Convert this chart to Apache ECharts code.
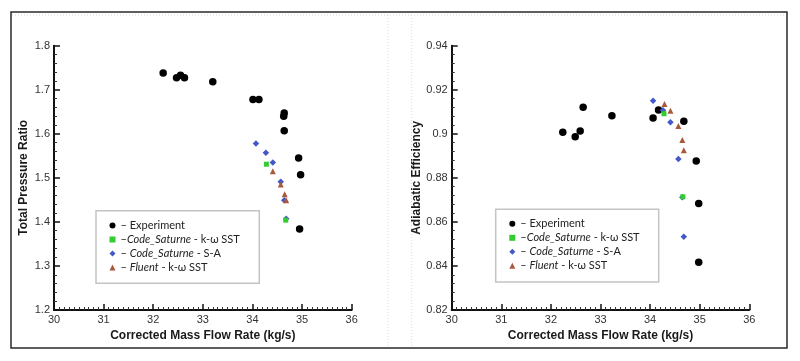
<!DOCTYPE html>
<html><head><meta charset="utf-8">
<script src="https://cdn.jsdelivr.net/npm/echarts@6/dist/echarts.min.js"></script>
<style>html,body{margin:0;padding:0;background:#fff}#c{width:800px;height:361px}</style>
</head><body><div id="c"></div>
<script>
// ---- Data: Total Pressure Ratio panel ----
const prExpX = [32.20, 32.47, 32.55, 32.63, 33.20, 34.01, 34.13, 34.64, 34.63, 34.64, 34.93, 34.97, 34.95];
const prExpY = [1.738, 1.727, 1.733, 1.727, 1.718, 1.678, 1.678, 1.647, 1.640, 1.607, 1.545, 1.507, 1.384];
const prSstX = [34.28, 34.67];
const prSstY = [1.531, 1.404];
const prSaX = [34.07, 34.27, 34.41, 34.57, 34.64, 34.68];
const prSaY = [1.578, 1.557, 1.535, 1.491, 1.449, 1.407];
const prFlX = [34.41, 34.57, 34.65, 34.68];
const prFlY = [1.515, 1.485, 1.463, 1.449];
// ---- Data: Adiabatic Efficiency panel ----
const efExpX = [32.24, 32.49, 32.59, 32.65, 33.23, 34.06, 34.17, 34.68, 34.93, 34.98, 34.98];
const efExpY = [0.9007, 0.8987, 0.9013, 0.9120, 0.9082, 0.9072, 0.9108, 0.9057, 0.8877, 0.8684, 0.8417];
const efSstX = [34.28, 34.66];
const efSstY = [0.9091, 0.8714];
const efSaX = [34.06, 34.26, 34.41, 34.57, 34.65, 34.68];
const efSaY = [0.9150, 0.9107, 0.9052, 0.8886, 0.8712, 0.8533];
const efFlX = [34.29, 34.41, 34.57, 34.65, 34.68];
const efFlY = [0.9135, 0.9105, 0.9035, 0.8972, 0.8925];
// ---- Labels ----
const seriesNames = ['Experiment', 'Code_Saturne k-ω SST', 'Code_Saturne S-A', 'Fluent k-ω SST'];
const xTitle = 'Corrected Mass Flow Rate (kg/s)';
const yTitles = ['Total Pressure Ratio', 'Adiabatic Efficiency'];

const zip = (a, b) => a.map((v, i) => [v, b[i]]);
const chart = echarts.init(document.getElementById('c'), null, {renderer: 'canvas'});

const tickFont = {fontFamily: 'Liberation Sans, Arial', fontSize: 11, color: '#333'};
const titleFont = {fontFamily: 'Liberation Sans, Arial', fontSize: 12, fontWeight: 'bold', color: '#1a1a1a'};
const axisLine = {show: true, onZero: false, lineStyle: {color: '#111', width: 2}};

function xAx(gi) {
  return {gridIndex: gi, type: 'value', min: 30, max: 36, interval: 1,
    name: xTitle, nameLocation: 'middle', nameGap: 18, nameTextStyle: titleFont,
    axisLine: axisLine, axisTick: {inside: true, length: 6, lineStyle: {color: '#111', width: 1.5}},
    minorTick: {show: true, splitNumber: 10, length: 3, lineStyle: {color: '#333', width: 1}},
    axisLabel: Object.assign({margin: 4}, tickFont), splitLine: {show: false}};
}
function yAx(gi, min, max, interval, fmt, gap) {
  return {gridIndex: gi, type: 'value', min: min, max: max, interval: interval,
    name: yTitles[gi], nameLocation: 'middle', nameGap: gap, nameRotate: 90, nameTextStyle: titleFont,
    axisLine: axisLine, axisTick: {inside: true, length: 6, lineStyle: {color: '#111', width: 1.5}},
    minorTick: {show: true, splitNumber: 5, length: 3, lineStyle: {color: '#333', width: 1}},
    axisLabel: Object.assign({margin: 4, formatter: fmt}, tickFont), splitLine: {show: false}};
}

const colExp = '#000000', colSst = '#33cc33', colSa = '#4458c8', colFl = '#a8583c';
function seriesFor(gi, exp, sst, sa, fl) {
  const base = {type: 'scatter', xAxisIndex: gi, yAxisIndex: gi, silent: true};
  return [
    Object.assign({name: seriesNames[0], symbol: 'circle', symbolSize: 7.5, itemStyle: {color: colExp, opacity: 1}, data: exp}, base),
    Object.assign({name: seriesNames[2], symbol: 'diamond', symbolSize: 6.5, itemStyle: {color: colSa, opacity: 1}, data: sa}, base),
    Object.assign({name: seriesNames[1], symbol: 'rect', symbolSize: 5, itemStyle: {color: colSst, opacity: 1}, data: sst}, base),
    Object.assign({name: seriesNames[3], symbol: 'triangle', symbolSize: 6, itemStyle: {color: colFl, opacity: 1}, data: fl}, base)
  ];
}

const legendRich = {
  d: {fontFamily: 'Lato', fontSize: 11, color: '#222', lineHeight: 14},
  i: {fontFamily: 'Lato', fontSize: 11, fontStyle: 'italic', color: '#222', lineHeight: 14},
  n: {fontFamily: 'Lato', fontSize: 11, color: '#222', lineHeight: 14}
};
function legendFmt(name) {
  if (name === 'Experiment') return '{d|– Experiment}';
  if (name === 'Code_Saturne k-ω SST') return '{d|–}{i|Code_Saturne}{n| - k-ω SST}';
  if (name === 'Code_Saturne S-A') return '{d|– }{i|Code_Saturne}{n| - S-A}';
  return '{d|– }{i|Fluent}{n| - k-ω SST}';
}
function legendAt(left, top) {
  return {orient: 'vertical', left: left, top: top, itemWidth: 6, itemHeight: 6, itemGap: 0, padding: 0,
    selectedMode: false,
    data: [{name: seriesNames[0], icon: 'circle'}, {name: seriesNames[1], icon: 'rect'},
           {name: seriesNames[2], icon: 'diamond'}, {name: seriesNames[3], icon: 'triangle'}],
    formatter: legendFmt, textStyle: {rich: legendRich, lineHeight: 14}};
}

const option = {
  animation: false,
  backgroundColor: '#fff',
  grid: [
    {left: 54, top: 45.7, width: 297.7, height: 264.3},
    {left: 451.7, top: 45.7, width: 297.6, height: 264.3}
  ],
  xAxis: [xAx(0), xAx(1)],
  yAxis: [
    yAx(0, 1.2, 1.8, 0.1, v => v.toFixed(1), 24),
    yAx(1, 0.82, 0.94, 0.02, v => String(parseFloat(v.toFixed(2))), 23)
  ],
  legend: [legendAt(109.5, 218.5), legendAt(509.3, 216.8)],
  series: [].concat(
    seriesFor(0, zip(prExpX, prExpY), zip(prSstX, prSstY), zip(prSaX, prSaY), zip(prFlX, prFlY)),
    seriesFor(1, zip(efExpX, efExpY), zip(efSstX, efSstY), zip(efSaX, efSaY), zip(efFlX, efFlY))
  ),
  graphic: [
    {type: 'rect', shape: {x: 11, y: 12, width: 776, height: 336}, style: {fill: 'none', stroke: '#2a2a2a', lineWidth: 1.5}, silent: true},
    {type: 'line', shape: {x1: 12, y1: 15, x2: 785, y2: 15}, style: {stroke: '#d8d8d8', lineWidth: 1, lineDash: [1, 2]}, silent: true},
    {type: 'line', shape: {x1: 388, y1: 15, x2: 388, y2: 346}, style: {stroke: '#d8d8d8', lineWidth: 1, lineDash: [1, 2]}, silent: true},
    {type: 'line', shape: {x1: 411.7, y1: 15, x2: 411.7, y2: 346}, style: {stroke: '#d8d8d8', lineWidth: 1, lineDash: [1, 2]}, silent: true},
    {type: 'rect', shape: {x: 96, y: 210.7, width: 163.3, height: 72.6}, style: {fill: 'none', stroke: '#c4c4c4', lineWidth: 1.5}, silent: true},
    {type: 'rect', shape: {x: 495.7, y: 209.3, width: 163, height: 72.7}, style: {fill: 'none', stroke: '#c4c4c4', lineWidth: 1.5}, silent: true}
  ]
};
chart.setOption(option);
</script>
</body></html>
